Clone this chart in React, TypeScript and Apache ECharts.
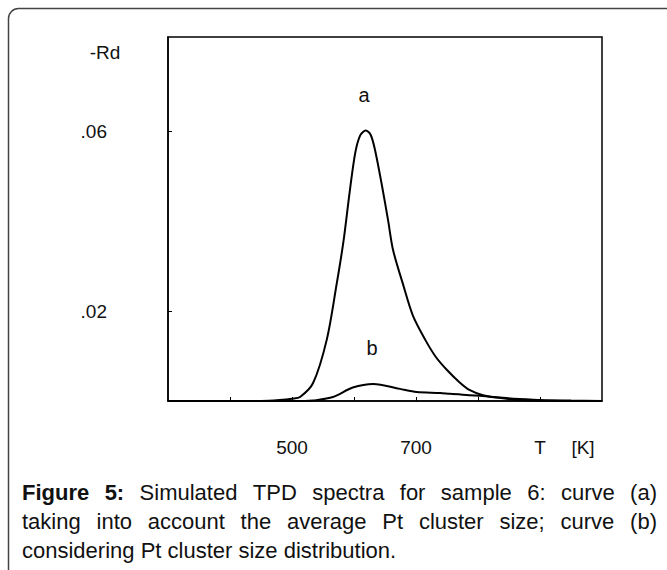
import React, { useEffect, useRef } from "react";
import * as echarts from "echarts";

// Temperature (K) and -Rd values
const tempA = [300, 450, 480, 500, 513, 534, 556, 572, 583, 593, 602, 610, 619, 627, 634, 645, 655, 663, 679, 695, 715, 732, 750, 770, 787, 808, 840, 889, 950, 1000];
const rdA = [0, 0, 0.0002, 0.0005, 0.0009, 0.004, 0.0136, 0.026, 0.0355, 0.0465, 0.0552, 0.0591, 0.0602, 0.0592, 0.0558, 0.048, 0.0402, 0.0336, 0.026, 0.019, 0.0136, 0.0098, 0.0069, 0.0042, 0.0024, 0.0013, 0.0007, 0.0003, 0.0001, 0];
const tempB = [300, 520, 534, 566, 598, 631, 674, 701, 739, 755, 808, 868, 932, 1000];
const rdB = [0, 0, 0.0001, 0.0009, 0.003, 0.0038, 0.0027, 0.002, 0.0018, 0.0016, 0.0011, 0.0002, 0, 0];

const xLabelValues = [500, 700];
const xTickValues = [400, 500, 600, 700, 800, 900];
const yLabelValues = [0.02, 0.06];

const captionLines: { text: string; bold?: boolean }[][] = [
  [{ text: "Figure", bold: true }, { text: "5:", bold: true }, { text: "Simulated" }, { text: "TPD" }, { text: "spectra" }, { text: "for" }, { text: "sample" }, { text: "6:" }, { text: "curve" }, { text: "(a)" }],
  [{ text: "taking" }, { text: "into" }, { text: "account" }, { text: "the" }, { text: "average" }, { text: "Pt" }, { text: "cluster" }, { text: "size;" }, { text: "curve" }, { text: "(b)" }],
  [{ text: "considering" }, { text: "Pt" }, { text: "cluster" }, { text: "size" }, { text: "distribution." }],
];

const FONT = "'Liberation Sans', Arial, Helvetica, sans-serif";

export default function App() {
  const ref = useRef<HTMLDivElement>(null);
  useEffect(() => {
    if (!ref.current) return;
    const chart = echarts.init(ref.current, undefined, { renderer: "svg" });

    const capSize = 22;
    const ctx = document.createElement("canvas").getContext("2d")!;
    const measure = (t: string, bold?: boolean) => {
      ctx.font = `${bold ? "bold " : ""}${capSize}px ${FONT}`;
      return ctx.measureText(t).width;
    };
    const capX0 = 22;
    const capX1 = 657;
    const capY = [492, 521, 550];
    const spaceW = measure(" ");
    const captionEls: any[] = [];
    captionLines.forEach((words, li) => {
      const widths = words.map((w) => measure(w.text, w.bold));
      const total = widths.reduce((a, b) => a + b, 0);
      const justify = li < captionLines.length - 1;
      const gap = justify ? (capX1 - capX0 - total) / (words.length - 1) : spaceW;
      let x = capX0;
      words.forEach((w, i) => {
        captionEls.push({
          type: "text",
          x,
          y: capY[li],
          style: {
            text: w.text,
            font: `${w.bold ? "bold " : ""}${capSize}px ${FONT}`,
            fill: "#111",
            textVerticalAlign: "middle",
          },
        });
        x += widths[i] + gap;
      });
    });

    const lbl = (text: string, x: number, y: number, size = 19, align = "center") => ({
      type: "text",
      x,
      y,
      style: { text, font: `${size}px ${FONT}`, fill: "#111", textAlign: align, textVerticalAlign: "middle" },
    });

    chart.setOption({
      animation: false,
      backgroundColor: "#fff",
      grid: { left: 168, top: 37, width: 434, height: 364, show: true, borderColor: "#000", borderWidth: 1.5, backgroundColor: "transparent" },
      xAxis: {
        type: "value",
        min: 300,
        max: 1000,
        interval: 100,
        axisLine: { show: true, lineStyle: { color: "#000", width: 1.5 } },
        axisTick: { show: true, inside: true, length: 4, customValues: xTickValues, lineStyle: { color: "#000" } },
        axisLabel: { customValues: xLabelValues, margin: 37, fontSize: 19, fontFamily: FONT, color: "#111" },
        splitLine: { show: false },
      },
      yAxis: {
        type: "value",
        min: 0,
        max: 0.081,
        axisLine: { show: true, lineStyle: { color: "#000", width: 1.5 } },
        axisTick: { show: true, inside: true, length: 4, customValues: yLabelValues, lineStyle: { color: "#000" } },
        axisLabel: {
          customValues: yLabelValues,
          margin: 61,
          fontSize: 19,
          fontFamily: FONT,
          color: "#111",
          formatter: (v: number) => v.toFixed(2).replace(/^0/, ""),
        },
        splitLine: { show: false },
      },
      series: [
        {
          name: "a",
          type: "line",
          data: tempA.map((t, i) => [t, rdA[i]]),
          showSymbol: false,
          smooth: 0.3,
          lineStyle: { color: "#000", width: 2 },
        },
        {
          name: "b",
          type: "line",
          data: tempB.map((t, i) => [t, rdB[i]]),
          showSymbol: false,
          smooth: 0.3,
          lineStyle: { color: "#000", width: 2 },
        },
      ],
      graphic: [
        {
          type: "rect",
          shape: { x: 8.5, y: 8.5, width: 700, height: 620, r: [10, 0, 0, 0] },
          style: { fill: "none", stroke: "#444", lineWidth: 1.5 },
          z: 100,
        },
        lbl("-Rd", 105, 52),
        lbl("a", 364, 95, 20),
        lbl("b", 372, 348, 20),
        lbl("T", 540, 447),
        lbl("[K]", 583, 447),
        ...captionEls,
      ],
    });
    return () => chart.dispose();
  }, []);
  return <div ref={ref} style={{ position: "fixed", left: 0, top: 0, width: 667, height: 570 }} />;
}
